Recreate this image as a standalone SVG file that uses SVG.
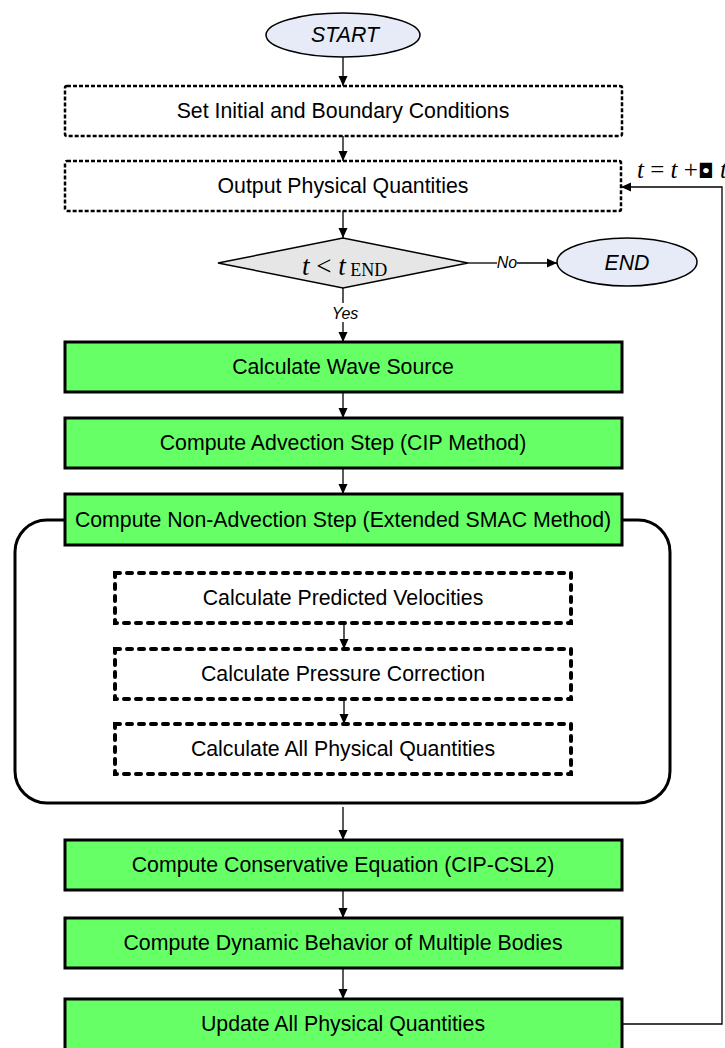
<svg xmlns="http://www.w3.org/2000/svg" width="725" height="1048" viewBox="0 0 725 1048">
<style>
.t{font-family:"Liberation Sans",Arial,sans-serif;font-size:21.3px;fill:#000;text-anchor:middle}
.it{font-style:italic}
.sm{font-family:"Liberation Sans",Arial,sans-serif;font-size:16px;font-style:italic;fill:#000}
.m{font-family:"Liberation Serif","Times New Roman",serif;fill:#000}
.g{fill:#66ff66;stroke:#000;stroke-width:3}
.d1{fill:#fff;stroke:#000;stroke-width:2.5;stroke-dasharray:4 2}
.d2{fill:#fff;stroke:#000;stroke-width:4;stroke-dasharray:5 7;stroke-linecap:round}
.ov{fill:#e6ebf7;stroke:#000;stroke-width:1.5}
.c{fill:none;stroke:#000;stroke-width:1.3}
</style>
<defs>
<marker id="a" markerWidth="10" markerHeight="10" refX="10" refY="5" orient="auto" markerUnits="userSpaceOnUse">
<path d="M0,0.5 L10,5 L0,9.5 Z" fill="#000"/>
</marker>
</defs>

<g id="container">
<rect x="15" y="520" width="655" height="283" rx="32" ry="32" fill="none" stroke="#000" stroke-width="3"/>
</g>

<g id="connectors">
<line class="c" x1="343" y1="56" x2="343" y2="86" marker-end="url(#a)"/>
<line class="c" x1="343" y1="136" x2="343" y2="161" marker-end="url(#a)"/>
<line class="c" x1="343" y1="211" x2="343" y2="238" marker-end="url(#a)"/>
<line class="c" x1="468" y1="263" x2="497" y2="263"/>
<line class="c" x1="517" y1="263" x2="557" y2="263" marker-end="url(#a)"/>
<line class="c" x1="343" y1="288" x2="343" y2="303"/>
<line class="c" x1="343" y1="322" x2="343" y2="342" marker-end="url(#a)"/>
<line class="c" x1="343" y1="392" x2="343" y2="418" marker-end="url(#a)"/>
<line class="c" x1="343" y1="468" x2="343" y2="494" marker-end="url(#a)"/>
<line class="c" x1="344" y1="623" x2="344" y2="649" marker-end="url(#a)"/>
<line class="c" x1="344" y1="699" x2="344" y2="724" marker-end="url(#a)"/>
<line class="c" x1="343" y1="807" x2="343" y2="840" marker-end="url(#a)"/>
<line class="c" x1="343" y1="890" x2="343" y2="918" marker-end="url(#a)"/>
<line class="c" x1="343" y1="968" x2="343" y2="999" marker-end="url(#a)"/>
<polyline class="c" points="622,1024 722,1024 722,187 621,187" marker-end="url(#a)"/>
<text class="sm" x="507" y="268" text-anchor="middle">No</text>
<text class="sm" x="345" y="319" text-anchor="middle">Yes</text>
<text class="m" x="637" y="178" font-size="25"><tspan font-style="italic">t</tspan> = <tspan font-style="italic">t</tspan> +<tspan font-family="DejaVu Sans" font-size="20">◘</tspan> <tspan font-style="italic">t</tspan></text>
</g>

<g id="start">
<ellipse class="ov" cx="343" cy="35" rx="77" ry="22"/>
<text class="t it" x="345" y="42">START</text>
</g>

<g id="set-initial">
<rect class="d1" x="65" y="86" width="557" height="50" rx="2"/>
<text class="t" x="343" y="118">Set Initial and Boundary Conditions</text>
</g>

<g id="output">
<rect class="d1" x="65" y="161" width="556" height="50" rx="2"/>
<text class="t" x="343" y="193">Output Physical Quantities</text>
</g>

<g id="decision">
<polygon points="218,263 343,238 468,263 343,288" fill="#e6e6e6" stroke="#000" stroke-width="1.5"/>
<text class="m" x="302" y="275" font-size="27"><tspan font-style="italic">t</tspan> &lt; <tspan font-style="italic">t</tspan><tspan font-size="18" dy="1"> END</tspan></text>
</g>

<g id="end">
<ellipse class="ov" cx="627" cy="262" rx="70" ry="24"/>
<text class="t it" x="627" y="270">END</text>
</g>

<g id="wave-source">
<rect class="g" x="65" y="342" width="557" height="50"/>
<text class="t" x="343" y="374">Calculate Wave Source</text>
</g>

<g id="advection">
<rect class="g" x="65" y="418" width="557" height="50"/>
<text class="t" x="343" y="450">Compute Advection Step (CIP Method)</text>
</g>

<g id="non-advection">
<rect class="g" x="65" y="494" width="557" height="51"/>
<text class="t" x="343" y="527">Compute Non-Advection Step (Extended SMAC Method)</text>
</g>

<g id="predicted">
<rect class="d2" x="115" y="573" width="456" height="50"/>
<text class="t" x="343" y="605">Calculate Predicted Velocities</text>
</g>

<g id="pressure">
<rect class="d2" x="115" y="649" width="456" height="50"/>
<text class="t" x="343" y="681">Calculate Pressure Correction</text>
</g>

<g id="all-physical">
<rect class="d2" x="115" y="724" width="456" height="50"/>
<text class="t" x="343" y="756">Calculate All Physical Quantities</text>
</g>

<g id="conservative">
<rect class="g" x="65" y="840" width="557" height="50"/>
<text class="t" x="343" y="872">Compute Conservative Equation (CIP-CSL2)</text>
</g>

<g id="dynamic">
<rect class="g" x="65" y="918" width="557" height="50"/>
<text class="t" x="343" y="950">Compute Dynamic Behavior of Multiple Bodies</text>
</g>

<g id="update">
<rect class="g" x="65" y="999" width="557" height="51"/>
<text class="t" x="343" y="1031">Update All Physical Quantities</text>
</g>
</svg>
